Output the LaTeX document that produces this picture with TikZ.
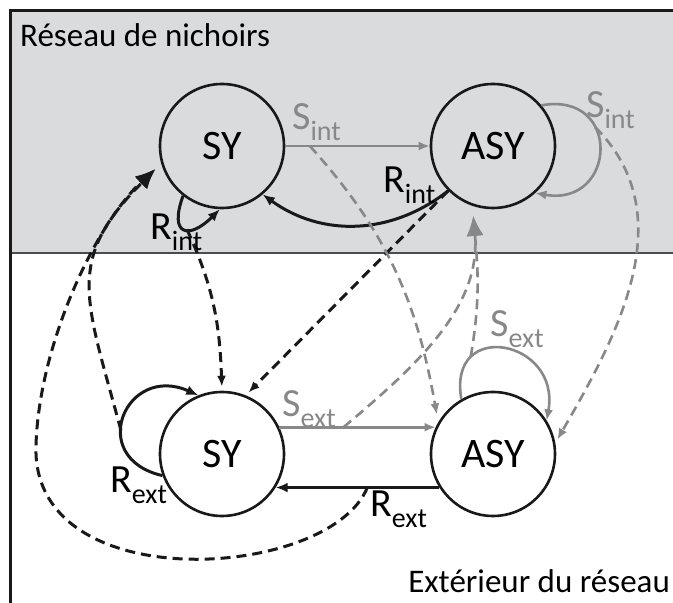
\documentclass[tikz,border=0pt]{standalone}
\usepackage{fontspec}
\setmainfont{Carlito}
\usepackage{tikz}
\usetikzlibrary{arrows.meta}
\definecolor{fondgris}{RGB}{218,219,221}
\definecolor{gristrait}{RGB}{136,136,136}
\newcommand{\taux}[2]{#1\raisebox{-11pt}{\fontsize{28}{28}\selectfont #2}}

\begin{document}
\begin{tikzpicture}[x=1pt, y=1pt,
    etat/.style={circle, draw=black!90, line width=2.6pt, minimum size=124pt, inner sep=0pt, font=\fontsize{42}{42}\selectfont},
    rfleche/.style={draw=black!90, line width=3pt, -{Latex[length=12pt,width=10pt]}},
    sfleche/.style={draw=gristrait, line width=2.6pt, -{Latex[length=11pt,width=9pt]}},
    rtiret/.style={draw=black!90, line width=3pt, dash pattern=on 10pt off 6pt, -{Latex[length=11pt,width=9pt]}},
    stiret/.style={draw=gristrait, line width=2.6pt, dash pattern=on 10pt off 6pt, -{Latex[length=11pt,width=9pt]}},
    grandepointe/.style={-{Latex[length=20pt,width=17pt]}},
    taux/.style={inner sep=0pt, anchor=base west, font=\fontsize{40}{40}\selectfont},
    titre/.style={inner sep=0pt, font=\fontsize{33}{33}\selectfont}
    ]

    % cadre
    \useasboundingbox (0,0) rectangle (673,603);
    \fill[fondgris] (10,350) rectangle (673,592);
    \draw[black!70, line width=1.2pt] (10,350) -- (673,350);
    \draw[black!90, line width=3pt] (10,0) -- (10,592) -- (673,592);
    \node[titre, anchor=base west] (reseau) at (20,556) {Réseau de nichoirs};
    \node[titre, anchor=base east] (exterieur) at (670,10) {Extérieur du réseau};

    % etats
    \node[etat] (SYi) at (222,457) {SY};
    \node[etat] (ASYi) at (493,457) {ASY};
    \node[etat] (SYe) at (222,149) {SY};
    \node[etat] (ASYe) at (493,149) {ASY};

    % transitions dans le reseau
    \draw[sfleche] (SYi.east) -- coordinate[pos=.17] (dSint) (ASYi.west);
    \draw[rfleche, bend left=37] (ASYi.225) to (SYi.-50);
    \draw[rfleche] (SYi.232) to[out=250, in=225, looseness=2.8] coordinate[pos=.55] (dRint) (SYi.268);
    \draw[sfleche] (ASYi.40) to[out=10, in=-10, looseness=2.4] coordinate[pos=.35] (dSiloop) (ASYi.-48);

    % transitions hors du reseau
    \draw[sfleche] (SYe.25) -- coordinate[pos=.41] (dSext) (ASYe.155);
    \draw[rfleche] (ASYe.212) -- coordinate[pos=.44] (dRext) (SYe.-32);
    \draw[rfleche] (SYe.200) to[out=167, in=156, looseness=2.3] coordinate[pos=.4] (dRloop) (SYe.112);
    \draw[sfleche] (ASYe.120) to[out=100, in=80, looseness=2.4] coordinate[pos=.25] (dSloop) (ASYe.32);

    % passages entre le reseau et l'exterieur
    \draw[rtiret, grandepointe, shorten >=8pt] (dRloop) to[out=105, in=225, looseness=1.3] (SYi.196);
    \draw[rtiret, grandepointe, shorten >=8pt] (dRext) .. controls (330,23) and (30,3) .. (36,158)
        .. controls (39,258) and (95,378) .. (SYi.196);
    \draw[rtiret, shorten >=4pt] (dRint) to[out=-65, in=92] (SYe.north);
    \draw[rtiret, shorten >=4pt] (ASYi.225) -- (SYe.68);
    \draw[stiret, shorten >=8pt] (dSint) to[out=-48, in=100] (ASYe.150);
    \draw[stiret, grandepointe, shorten >=10pt] (dSext) to[out=40, in=-85] (ASYi.-109);
    \draw[stiret, grandepointe, shorten >=10pt] (dSloop) to[out=80, in=-85] (ASYi.-109);
    \draw[stiret, shorten >=4pt] (dSiloop) to[out=-45, in=60] (ASYe.10);

    % taux
    \node[taux, text=gristrait] (tSint) at (292,473) {\taux{S}{int}};
    \node[taux] (tRint) at (383,410) {\taux{R}{int}};
    \node[taux] (tRintb) at (150,363) {\taux{R}{int}};
    \node[taux, text=gristrait] (tSintb) at (586,485) {\taux{S}{int}};
    \node[taux, text=gristrait] (tSext) at (282,186) {\taux{S}{ext}};
    \node[taux] (tRext) at (370,86) {\taux{R}{ext}};
    \node[taux] (tRextb) at (110,110) {\taux{R}{ext}};
    \node[taux, text=gristrait] (tSextb) at (490,266) {\taux{S}{ext}};

\end{tikzpicture}
\end{document}
